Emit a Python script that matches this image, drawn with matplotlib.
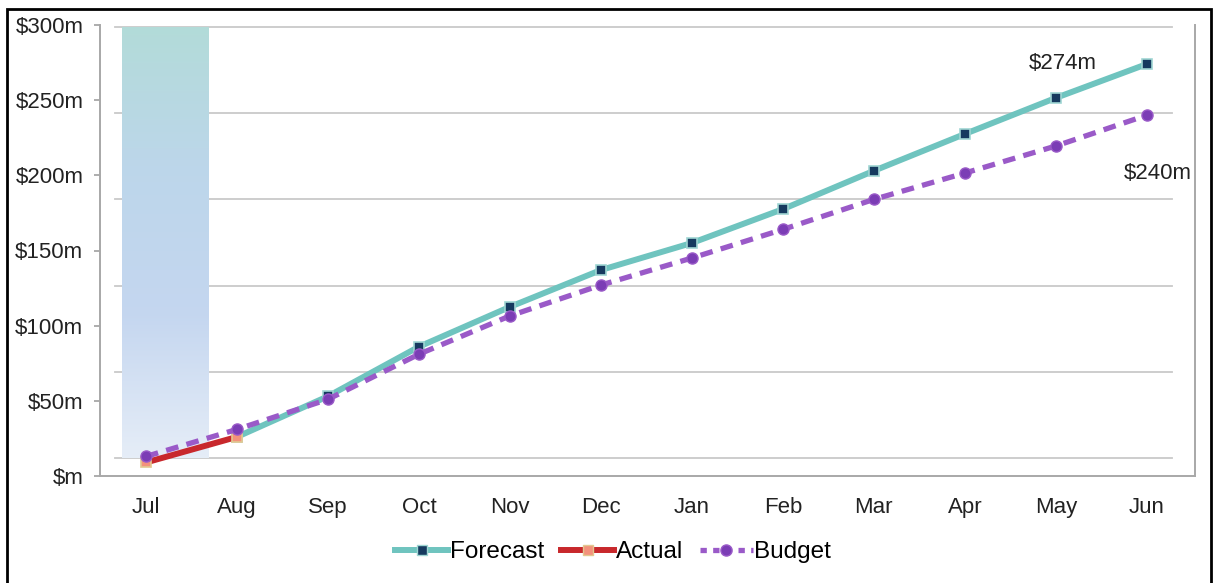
import matplotlib.pyplot as plt
import matplotlib.patches as mpatches
from matplotlib.lines import Line2D
import numpy as np

plt.rcParams['font.family'] = ['Liberation Sans', 'DejaVu Sans']

months = ['Jul', 'Aug', 'Sep', 'Oct', 'Nov', 'Dec', 'Jan', 'Feb', 'Mar', 'Apr', 'May', 'Jun']
forecast = [np.nan, 26, 53, 86, 112.5, 137, 155, 177.5, 203, 227.5, 251.5, 274]
actual = [9, 26] + [np.nan] * 10
budget = [13, 31, 51, 81, 106.5, 127, 145, 164, 184, 201.5, 219.5, 240]
ytick_vals = [0, 50, 100, 150, 200, 250, 300]
ytick_labels = ['$m', '$50m', '$100m', '$150m', '$200m', '$250m', '$300m']
# current month highlight (secondary axis, 0..1)
highlight = [1]

x = np.arange(len(months))

fig = plt.figure(figsize=(12.14, 5.83), dpi=100)
ax = fig.add_axes([100/1214, 107/583, 1095/1214, 451/583])
ax2 = ax.twinx()
ax.set_zorder(ax2.get_zorder() + 1)
ax.patch.set_visible(False)

ax.set_xlim(-0.505, 11.53)
ax.set_ylim(0, 300)

# secondary axis: gridlines and highlight bar
for g in np.linspace(0, 1, 6):
    ax2.plot([-0.34, 11.28], [g, g], color='#c9c9c9', lw=1.3, zorder=1)
bars = ax2.bar([0.214], highlight, width=0.956, color='none', zorder=2)
bar = bars[0]
grad_cols = np.array([[0.70, 0.86, 0.85], [0.74, 0.84, 0.92], [0.77, 0.84, 0.94], [0.90, 0.93, 0.97]])
t = np.linspace(0, 1, 200)
grad = np.stack([np.interp(t, np.linspace(0, 1, 4), grad_cols[:, c]) for c in range(3)], axis=-1)
img = ax2.imshow(grad[:, None, :], extent=[bar.get_x(), bar.get_x() + bar.get_width(), 0, 1],
                 aspect='auto', zorder=2, origin='upper')
img.set_clip_path(bar)
ax2.set_xlim(-0.505, 11.53)
ax2.set_ylim(-0.0418, 1.0046)
ax2.set_yticks([])
for s in ax2.spines.values():
    s.set_visible(False)

# series
ax.plot(x, forecast, color='#6fc4bf', lw=4.3, marker='s', ms=7.5, mfc='#163a5f',
        mec='#9fd6d3', mew=1.2, zorder=3)
ax.plot(x, actual, color='#c8282c', lw=4.3, marker='s', ms=7.5, mfc='#f3927c',
        mec='#e3c890', mew=1.2, zorder=4)
ax.plot(x, budget, color='#9a5ac8', lw=3.8, ls=(0, (2.4, 1.6)), marker='o', ms=8,
        mfc='#7b3db5', mec='#9a5ac8', zorder=5)

ax.annotate('$274m', xy=(11, forecast[-1]), xytext=(-84, 1), textcoords='offset pixels',
            ha='center', va='center', fontsize=16, color='#222222')
ax.annotate('$240m', xy=(11, budget[-1]), xytext=(11, -58), textcoords='offset pixels',
            ha='center', va='center', fontsize=16, color='#222222')

ax.set_xticks(x)
ax.set_xticklabels(months)
ax.set_yticks(ytick_vals)
ax.set_yticklabels(ytick_labels)
ax.tick_params(axis='x', length=0, pad=15, labelsize=16, labelcolor='#222222')
ax.tick_params(axis='y', length=4, width=1.2, color='#a0a0a0', pad=8, labelsize=16, labelcolor='#222222')
for side in ['left', 'bottom', 'right']:
    ax.spines[side].set_color('#a8a8a8')
    ax.spines[side].set_linewidth(1.4)
ax.spines['top'].set_visible(False)

handles = [
    Line2D([], [], color='#6fc4bf', lw=4.3, marker='s', ms=7.5, mfc='#163a5f', mec='#9fd6d3'),
    Line2D([], [], color='#c8282c', lw=4.3, marker='s', ms=7.5, mfc='#f3927c', mec='#e3c890'),
    Line2D([], [], color='#9a5ac8', lw=3.8, ls=(0, (1.2, 1.2)), marker='o', ms=8, mfc='#7b3db5', mec='#9a5ac8'),
]
fig.legend(handles, ['Forecast', 'Actual', 'Budget'], loc='center', bbox_to_anchor=(0.505, 1 - 552/583),
           ncol=3, frameon=False, fontsize=17.5, handlelength=2.2, handletextpad=0.05, columnspacing=0.7)

# outer frame
fig.patches.append(mpatches.Rectangle((7/1214, -0.05), 1204/1214, 1.05 - 9/583, transform=fig.transFigure,
                                      fill=False, edgecolor='black', lw=2))

fig.savefig('out.png', dpi=100)
